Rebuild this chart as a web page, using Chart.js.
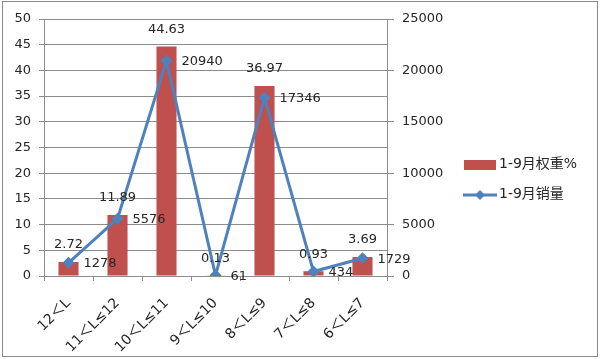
<!DOCTYPE html>
<html>
<head>
<meta charset="utf-8">
<script src="https://cdn.jsdelivr.net/npm/chart.js@4.4.0/dist/chart.umd.min.js"></script>
<style>
  html, body { margin: 0; padding: 0; background: #fff; }
  #wrap { width: 600px; height: 359px; position: relative; }
</style>
</head>
<body>
<div id="wrap"><canvas id="chart"></canvas></div>
<script>
const categories = ["12＜L", "11＜L≤12", "10＜L≤11", "9＜L≤10", "8＜L≤9", "7＜L≤8", "6＜L≤7"];
const weightPct = [2.72, 11.89, 44.63, 0.13, 36.97, 0.93, 3.69];
const salesVolume = [1278, 5576, 20940, 61, 17346, 434, 1729];
const seriesNames = ["1-9月权重%", "1-9月销量"];

const FONT = '"DejaVu Sans", "Noto Sans CJK SC", sans-serif';
const TEXT = "#262626";
const GRID = "#8c8c8c";
const RED = "#C0504D";
const BLUE = "#4F81BD";

// value labels + frame + legend, drawn by hand since there is no datalabels plugin
const decorPlugin = {
  id: "decor",
  afterDatasetsDraw(chart) {
    const ctx = chart.ctx;
    ctx.save();
    ctx.font = "13px " + FONT;
    ctx.fillStyle = TEXT;
    ctx.textBaseline = "middle";

    const bars = chart.getDatasetMeta(0).data;
    ctx.textAlign = "center";
    bars.forEach((bar, i) => {
      ctx.fillText(weightPct[i].toFixed(2), bar.x, bar.y - 17);
    });

    const points = chart.getDatasetMeta(1).data;
    ctx.textAlign = "left";
    points.forEach((pt, i) => {
      ctx.fillText(String(salesVolume[i]), pt.x + 15, pt.y + 1);
    });
    ctx.restore();
  },
  afterDraw(chart) {
    const ctx = chart.ctx;
    ctx.save();
    ctx.strokeStyle = "#8a8a8a";
    ctx.lineWidth = 1;
    ctx.strokeRect(2.5, 1.5, 595, 355);

    ctx.font = "14px " + FONT;
    ctx.fillStyle = TEXT;
    ctx.textBaseline = "middle";
    ctx.textAlign = "left";

    ctx.fillStyle = RED;
    ctx.fillRect(464, 160, 32, 10);
    ctx.fillStyle = TEXT;
    ctx.fillText(seriesNames[0], 499, 164);

    ctx.strokeStyle = BLUE;
    ctx.lineWidth = 3;
    ctx.beginPath();
    ctx.moveTo(463, 195);
    ctx.lineTo(497, 195);
    ctx.stroke();
    ctx.fillStyle = BLUE;
    ctx.beginPath();
    ctx.moveTo(480, 190);
    ctx.lineTo(485, 195);
    ctx.lineTo(480, 200);
    ctx.lineTo(475, 195);
    ctx.closePath();
    ctx.fill();
    ctx.fillStyle = TEXT;
    ctx.fillText(seriesNames[1], 499, 194);
    ctx.restore();
  }
};

new Chart(document.getElementById("chart"), {
  data: {
    labels: categories,
    datasets: [
      {
        type: "bar",
        label: seriesNames[0],
        data: weightPct,
        yAxisID: "y",
        backgroundColor: RED,
        categoryPercentage: 1,
        barPercentage: 0.41,
        order: 2
      },
      {
        type: "line",
        label: seriesNames[1],
        data: salesVolume,
        yAxisID: "y2",
        borderColor: BLUE,
        backgroundColor: BLUE,
        borderWidth: 3,
        pointStyle: "rectRot",
        pointRadius: 6,
        pointBorderWidth: 0,
        tension: 0,
        order: 1
      }
    ]
  },
  options: {
    responsive: true,
    maintainAspectRatio: false,
    animation: false,
    layout: { padding: { left: 3, top: 19, right: 153, bottom: 3 } },
    plugins: {
      legend: { display: false },
      tooltip: { enabled: false }
    },
    scales: {
      x: {
        offset: true,
        grid: { offset: true, drawOnChartArea: false, color: GRID, tickLength: 5 },
        border: { color: GRID },
        ticks: {
          color: TEXT,
          font: { family: FONT, size: 14 },
          minRotation: 45,
          maxRotation: 45,
          padding: 14
        },
        afterFit(scale) { scale.height = 80; }
      },
      y: {
        position: "left",
        min: 0,
        max: 50,
        grid: { color: GRID, tickLength: 5 },
        border: { color: GRID },
        ticks: {
          stepSize: 5,
          color: TEXT,
          font: { family: FONT, size: 13 },
          padding: 8
        },
        afterFit(scale) { scale.width = 41; }
      },
      y2: {
        position: "right",
        min: 0,
        max: 25000,
        grid: { drawOnChartArea: false, color: GRID, tickLength: 7 },
        border: { color: GRID },
        ticks: {
          stepSize: 5000,
          color: TEXT,
          font: { family: FONT, size: 13 },
          padding: 8,
          callback: (v) => String(v)
        },
        afterFit(scale) { scale.width = 60; }
      }
    }
  },
  plugins: [decorPlugin]
});
</script>
</body>
</html>
